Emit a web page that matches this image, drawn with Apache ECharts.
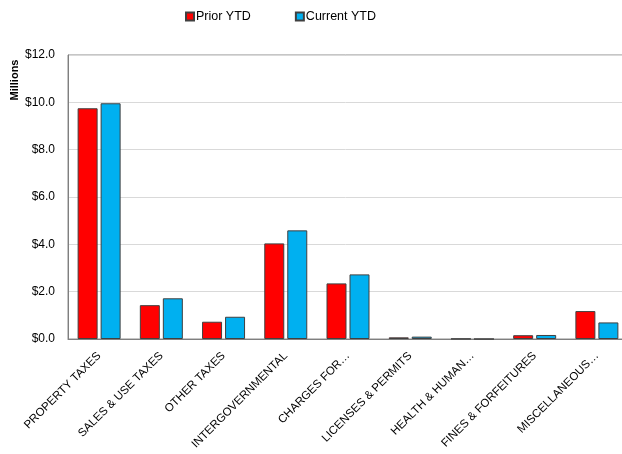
<!DOCTYPE html>
<html>
<head>
<meta charset="utf-8">
<script src="https://cdn.jsdelivr.net/npm/echarts@6/dist/echarts.min.js"></script>
<style>
  html, body { margin: 0; padding: 0; background: #fff; }
  #main { width: 622px; height: 454px; }
</style>
</head>
<body>
<div id="main"></div>
<script>
// revenue categories (labels shown truncated as in the original)
var categories = ['PROPERTY TAXES', 'SALES & USE TAXES', 'OTHER TAXES', 'INTERGOVERNMENTAL', 'CHARGES FOR…',
    'LICENSES & PERMITS', 'HEALTH & HUMAN…', 'FINES & FORFEITURES', 'MISCELLANEOUS…'];
// millions of dollars
var priorYTD = [9.75, 1.43, 0.73, 4.04, 2.35, 0.07, 0.01, 0.16, 1.18];
var currentYTD = [9.96, 1.72, 0.94, 4.59, 2.73, 0.10, 0.00, 0.17, 0.70];
var seriesNames = ['Prior YTD', 'Current YTD'];

var myChart = echarts.init(document.getElementById('main'));
var font = 'Liberation Sans, Arial, sans-serif';

var option = {
    animation: false,
    textStyle: { fontFamily: font },
    legend: {
        data: seriesNames,
        top: 5,
        left: 180,
        itemWidth: 8,
        itemHeight: 8,
        itemGap: 44,
        icon: 'rect',
        textStyle: { fontSize: 12.5, color: '#000', padding: [0, 0, 0, -3] }
    },
    grid: {
        left: 68,
        width: 560,
        top: 55,
        bottom: 115,
        outerBoundsMode: 'none',
        show: true,
        borderColor: '#8c8c8c',
        borderWidth: 1
    },
    graphic: [{
        type: 'text',
        x: 15,
        y: 80,
        rotation: Math.PI / 2,
        style: {
            text: 'Millions',
            align: 'center',
            verticalAlign: 'middle',
            font: 'bold 11px Liberation Sans, Arial, sans-serif',
            fill: '#000'
        }
    }],
    xAxis: {
        type: 'category',
        data: categories,
        axisLine: { lineStyle: { color: '#7f7f7f' } },
        axisTick: { show: false },
        axisLabel: { interval: 0, rotate: 45, fontSize: 11.5, color: '#000', margin: 15 }
    },
    yAxis: {
        type: 'value',
        min: 0,
        max: 12,
        interval: 2,
        axisLine: { show: true, lineStyle: { color: '#7f7f7f' } },
        axisTick: { show: false },
        axisLabel: {
            fontSize: 12,
            color: '#000',
            margin: 13,
            formatter: function (v) { return '$' + v.toFixed(1); }
        },
        splitLine: { lineStyle: { color: '#d9d9d9' } }
    },
    series: [
        {
            name: seriesNames[0],
            type: 'bar',
            data: priorYTD,
            barWidth: 20,
            barGap: '15%',
            itemStyle: { color: '#ff0000', borderColor: '#404040', borderWidth: 1 }
        },
        {
            name: seriesNames[1],
            type: 'bar',
            data: currentYTD,
            barWidth: 20,
            itemStyle: { color: '#00b0f0', borderColor: '#404040', borderWidth: 1 }
        }
    ]
};
myChart.setOption(option);
</script>
</body>
</html>
